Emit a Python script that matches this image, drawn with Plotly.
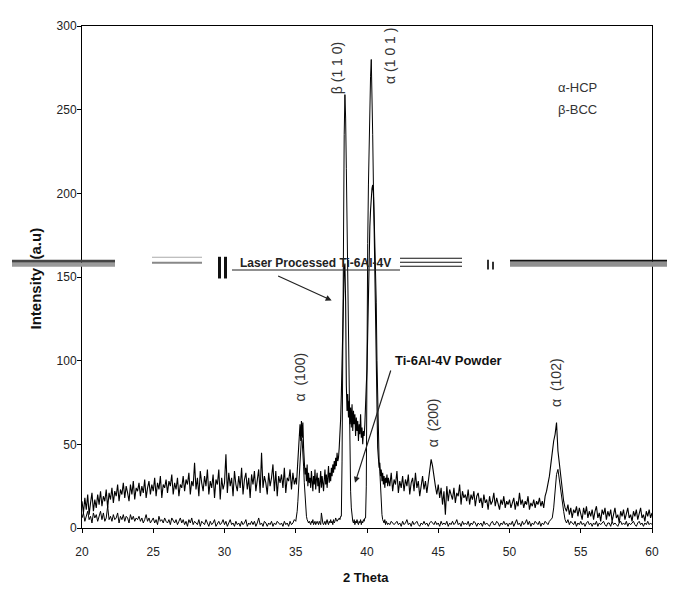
import numpy as np
import plotly.graph_objects as go

# ---------------- data ----------------
# sample grids (2-theta, degrees)
two_theta_a = np.round(np.arange(200, 350) / 10, 3)    # 20.0 .. 34.9, step 0.1
two_theta_b = np.round(np.arange(700, 830) / 20, 3)    # 35.0 .. 41.45, step 0.05
two_theta_c = np.round(np.arange(415, 601) / 10, 3)    # 41.5 .. 60.0, step 0.1

laser_a = [
    16, 9, 18, 11, 20, 8, 15, 21, 10, 17,
    12, 20, 14, 22, 13, 19, 16, 23, 12, 21,
    17, 24, 15, 22, 19, 26, 16, 23, 20, 27,
    18, 25, 21, 16, 26, 20, 28, 17, 24, 22,
    27, 19, 25, 21, 29, 18, 24, 28, 20, 26,
    22, 30, 19, 27, 23, 31, 18, 26, 24, 29,
    21, 28, 25, 32, 20, 27, 23, 30, 19, 26,
    24, 31, 22, 29, 26, 33, 20, 28, 25, 39,
    23, 30, 19, 34, 27, 22, 31, 25, 35, 20,
    28, 24, 32, 18, 29, 26, 35, 17, 30, 23,
    27, 44, 21, 33, 25, 30, 19, 34, 26, 22,
    31, 24, 36, 20, 29, 33, 23, 30, 18, 32,
    26, 34, 22, 29, 35, 21, 45, 24, 31, 27,
    20, 33, 25, 30, 38, 22, 34, 19, 31, 27,
    32, 24, 36, 21, 30, 28, 35, 23, 33, 26,
]
laser_b = [
    30, 26, 34, 38, 45, 55, 62, 52, 64, 54,
    63, 48, 40, 32, 36, 28, 38, 25, 33, 27,
    30, 24, 34, 27, 22, 31, 26, 35, 23, 29,
    33, 25, 30, 21, 28, 34, 24, 31, 27, 22,
    29, 35, 26, 32, 24, 30, 37, 27, 33, 28,
    36, 31, 38, 33, 40, 35, 42, 37, 45, 40,
    42, 48, 55, 65, 80, 100, 125, 145, 155, 158,
    135, 85, 70, 80, 66, 76, 62, 72, 60, 74,
    58, 70, 62, 68, 55, 66, 58, 64, 52, 62,
    56, 68, 54, 60, 50, 58, 55, 62, 70, 85,
    95, 120, 145, 165, 180, 190, 198, 203, 205, 200,
    180, 150, 110, 80, 60, 48, 42, 36, 39, 31,
    35, 28, 33, 26, 31, 24, 30, 27, 32, 25,
]
laser_c = [
    30, 25, 33, 22, 29,
    26, 34, 21, 28, 24, 31, 22, 29, 25, 32,
    20, 27, 30, 22, 33, 24, 28, 19, 26, 31,
    23, 28, 21, 27, 32, 41, 37, 30, 25, 20,
    26, 18, 24, 14, 22, 8, 25, 16, 23, 20,
    17, 24, 15, 21, 19, 26, 14, 22, 18, 20,
    16, 23, 14, 20, 17, 22, 13, 19, 21, 15,
    18, 12, 20, 15, 17, 11, 19, 14, 16, 21,
    13, 18, 15, 11, 17, 14, 19, 12, 16, 14,
    17, 12, 15, 18, 11, 16, 13, 21, 14, 17,
    12, 16, 14, 19, 11, 15, 13, 17, 12, 16,
    14, 18, 13, 16, 12, 19, 22, 26, 31, 38,
    46, 52, 56, 63, 46, 38, 30, 22, 16, 12,
    10, 14, 8, 12, 6, 11, 9, 13, 7, 12,
    9, 5, 12, 8, 13, 6, 10, 7, 11, 5,
    10, 13, 6, 9, 4, 11, 8, 12, 5, 10,
    7, 11, 4, 9, 12, 6, 8, 3, 10, 7,
    11, 5, 9, 12, 6, 8, 4, 10, 7, 11,
    5, 9, 12, 6, 8, 4, 10, 7, 11, 6,
    9,
]

powder_a = [
    6, 9, 4, 8, 10, 5, 7, 3, 9, 6,
    8, 4, 7, 10, 5, 9, 4, 6, 13, 5,
    7, 4, 8, 5, 6, 9, 3, 7, 5, 8,
    4, 7, 6, 3, 8, 5, 7, 4, 6, 5,
    7, 4, 6, 3, 5, 8, 4, 6, 3, 5,
    6, 3, 5, 2, 7, 4, 5, 3, 6, 4,
    3, 5, 2, 6, 4, 3, 5, 2, 4, 6,
    3, 5, 2, 4, 1, 5, 3, 6, 2, 4,
    3, 2, 5, 1, 4, 3, 2, 5, 3, 1,
    4, 2, 3, 5, 1, 3, 4, 2, 3, 5,
    2, 4, 1, 3, 5, 2, 3, 1, 4, 2,
    3, 1, 4, 2, 3, 5, 1, 3, 2, 4,
    2, 4, 1, 3, 6, 2, 3, 1, 4, 3,
    1, 3, 2, 4, 1, 3, 2, 4, 3, 2,
    3, 1, 4, 2, 3, 1, 4, 2, 3, 5,
]
powder_b = [
    4, 6, 10, 16, 25, 36, 45, 51, 54, 52,
    46, 37, 27, 18, 11, 7, 5, 4, 3, 4,
    3, 2, 4, 3, 5, 2, 3, 4, 2, 3,
    4, 3, 2, 4, 3, 2, 9, 4, 3, 2,
    3, 4, 2, 3, 5, 3, 2, 4, 3, 5,
    3, 4, 2, 5, 3, 4, 6, 5, 4, 5,
    5, 6, 5, 7, 7, 40, 120, 190, 235, 259,
    245, 215, 180, 150, 110, 70, 40, 22, 12, 7,
    4, 3, 5, 2, 4, 3, 5, 3, 2, 4,
    3, 5, 2, 4, 3, 5, 4, 6, 6, 25,
    120, 170, 205, 235, 255, 270, 280, 265, 235, 205,
    190, 175, 160, 135, 100, 70, 52, 40, 34, 24,
    14, 8, 5, 4, 3, 5, 2, 4, 3, 2,
]
powder_c = [
    3, 2, 4, 3, 2,
    3, 4, 2, 3, 1, 4, 2, 3, 5, 2,
    3, 1, 4, 2, 3, 4, 2, 1, 3, 2,
    4, 2, 3, 1, 3, 4, 3, 2, 4, 2,
    3, 1, 4, 2, 3, 2, 4, 1, 3, 2,
    4, 2, 3, 5, 2, 3, 1, 4, 2, 3,
    2, 4, 1, 3, 2, 4, 3, 1, 3, 2,
    3, 1, 4, 2, 3, 2, 1, 3, 4, 2,
    2, 4, 3, 1, 3, 2, 4, 2, 3, 1,
    3, 2, 4, 1, 3, 5, 2, 3, 1, 4,
    2, 3, 5, 2, 4, 1, 3, 2, 4, 3,
    2, 4, 1, 3, 2, 4, 3, 2, 4, 5,
    6, 12, 22, 32, 35, 28, 24, 16, 10, 5,
    3, 5, 2, 4, 3, 2, 4, 1, 3, 2,
    4, 2, 3, 1, 3, 4, 2, 3, 1, 3,
    2, 4, 1, 3, 2, 3, 4, 2, 1, 3,
    3, 1, 4, 2, 3, 2, 1, 3, 4, 2,
    3, 2, 4, 1, 3, 2, 3, 4, 2, 1,
    3, 4, 2, 3, 1, 3, 2, 4, 2, 3,
    2,
]

# peak labels: text, 2theta, intensity (label centre)
peak_labels = ["β (1\u00a01\u00a00)", "α (1\u00a00\u00a01\u00a0)", "α\u00a0\u00a0(100)", "α\u00a0\u00a0(200)", "α\u00a0\u00a0(102)"]
peak_x = [37.85, 41.6, 35.3, 44.6, 53.3]
peak_y = [275, 282, 90, 63, 87]

x_ticks = [20, 25, 30, 35, 40, 45, 50, 55, 60]
y_ticks = [0, 50, 100, 150, 200, 250, 300]

# ---------------- assemble ----------------
x_all = np.concatenate([two_theta_a, two_theta_b, two_theta_c])
laser = laser_a + laser_b + laser_c
powder = powder_a + powder_b + powder_c
assert len(laser) == len(x_all) == len(powder), (len(laser), len(powder), len(x_all))

OFF = 8                      # page body margin
W, H = 669, 588
L, R, T, B = 74, 25, 11, 68
PW, PH = W - L - R, H - T - B
PLOT_LEFT = OFF + L          # screen px
PLOT_BOTTOM = OFF + T + PH


def px(xs):
    return (xs - PLOT_LEFT) / PW


def py(ys):
    return (PLOT_BOTTOM - ys) / PH


fig = go.Figure()
fig.add_trace(go.Scatter(x=x_all, y=powder, mode="lines",
                         line=dict(color="black", width=1), name="Ti-6Al-4V Powder"))
fig.add_trace(go.Scatter(x=x_all, y=laser, mode="lines",
                         line=dict(color="black", width=1.1), name="Laser Processed Ti-6Al-4V"))

FONT = "Liberation Sans, Arial, sans-serif"
ann = []
for t, xv, yv in zip(peak_labels, peak_x, peak_y):
    ann.append(dict(x=xv, y=yv, xref="x", yref="y", text=t, textangle=-90,
                    xanchor="center", yanchor="middle",
                    showarrow=False, font=dict(family=FONT, size=14, color="#333333")))

ann += [
    dict(x=54.8, y=263, xref="x", yref="y", text="α-HCP", showarrow=False,
         xanchor="center", yanchor="middle", font=dict(family=FONT, size=13, color="#333333")),
    dict(x=54.8, y=250, xref="x", yref="y", text="β-BCC", showarrow=False,
         xanchor="center", yanchor="middle", font=dict(family=FONT, size=13, color="#333333")),
    dict(x=45.7, y=100, xref="x", yref="y", text="<b>Ti-6Al-4V Powder</b>", showarrow=False,
         xanchor="center", yanchor="middle", font=dict(family=FONT, size=13, color="#111111")),
    dict(x=39.16, y=27, xref="x", yref="y", ax=41.7, ay=95, axref="x", ayref="y",
         text="", showarrow=True, arrowhead=2, arrowsize=1, arrowwidth=1.2, arrowcolor="#222222"),
    dict(x=36.42, y=158.5, xref="x", yref="y", text="<b>Laser Processed Ti-6Al-4V</b>",
         showarrow=False, xanchor="center", yanchor="middle",
         font=dict(family=FONT, size=12, color="#222222")),
    dict(x=37.52, y=136, xref="x", yref="y", ax=33.66, ay=151, axref="x", ayref="y",
         text="", showarrow=True, arrowhead=2, arrowsize=1, arrowwidth=1.2, arrowcolor="#222222"),
    dict(x=px(366), y=py(578), xref="paper", yref="paper", text="<b>2 Theta</b>",
         xanchor="center", yanchor="middle",
         showarrow=False, font=dict(family=FONT, size=13, color="#111111")),
    dict(x=px(35), y=py(275), xref="paper", yref="paper", text="<b>Intensity\u00a0 (a.u)</b>",
         xanchor="center", yanchor="middle",
         textangle=-90, showarrow=False, font=dict(family=FONT, size=15, color="#111111")),
]

# horizontal scan-line band that crosses the original picture
shapes = []


def band(x0, x1, y0, y1, color):
    shapes.append(dict(type="rect", xref="paper", yref="paper", x0=px(x0), x1=px(x1),
                       y0=py(y1), y1=py(y0), fillcolor=color, line=dict(width=0), layer="above"))


band(12, 115, 256, 259, "#444444")
band(12, 115, 259, 263, "#9a9a9a")
band(510, 667, 256, 258, "#111111")
band(510, 667, 258, 263, "#8f8f8f")
band(152, 202, 253, 254, "#aaaaaa")
band(152, 202, 258, 260, "#888888")
band(218, 221, 253, 275, "#111111")
band(224, 227, 253, 275, "#111111")
band(232, 400, 266, 267, "#222222")
band(400, 462, 254, 255, "#111111")
band(400, 462, 258, 259, "#111111")
band(400, 462, 262, 263, "#111111")
band(487, 489, 256, 266, "#333333")
band(492, 494, 258, 266, "#333333")

fig.update_layout(
    width=W, height=H,
    margin=dict(l=L, r=R, t=T, b=B),
    paper_bgcolor="white", plot_bgcolor="white",
    showlegend=False,
    font=dict(family=FONT, size=12, color="#222222"),
    annotations=ann,
    shapes=shapes,
)
fig.update_xaxes(range=[20, 60], tickvals=x_ticks, showgrid=False, zeroline=False,
                 showline=True, linecolor="black", linewidth=1, mirror=True,
                 ticks="outside", ticklen=4, tickcolor="black",
                 tickfont=dict(family=FONT, size=12, color="#222222"), ticklabelstandoff=9)
fig.update_yaxes(range=[0, 300], tickvals=y_ticks, showgrid=False, zeroline=False,
                 showline=True, linecolor="black", linewidth=1, mirror=True,
                 ticks="outside", ticklen=4, tickcolor="black",
                 tickfont=dict(family=FONT, size=12, color="#222222"), ticklabelstandoff=-2)

fig.write_html("out.html")
